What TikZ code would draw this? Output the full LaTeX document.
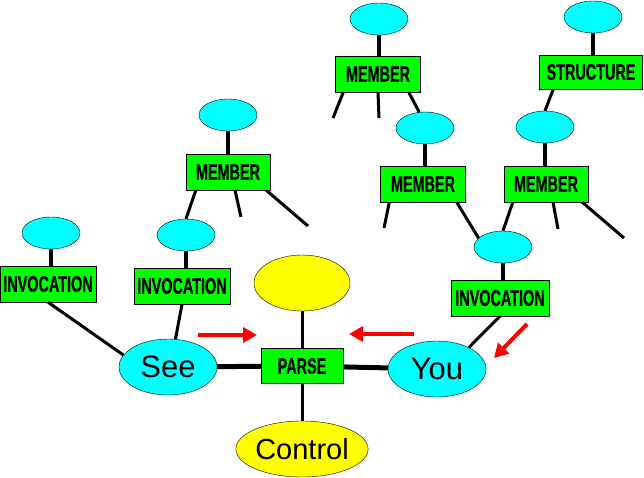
\documentclass[tikz,border=0pt]{standalone}
\usepackage{fontspec}
\setmainfont{Liberation Sans}
\newfontfamily\tagfont[FakeStretch=0.64, FakeBold=0.6]{Liberation Sans}
\usetikzlibrary{positioning,arrows.meta,shapes.geometric}
\definecolor{slotcyan}{RGB}{0,255,255}
\definecolor{rolegreen}{RGB}{0,255,0}
\definecolor{predyellow}{RGB}{255,255,0}
\definecolor{cuered}{RGB}{255,0,0}
\tikzset{
  slot/.style ={ellipse, draw=black, fill=slotcyan, minimum width=58pt, minimum height=32pt, inner sep=0pt},
  word/.style ={ellipse, draw=black, fill=slotcyan, minimum width=98pt, minimum height=56pt,
                inner sep=0pt, font=\fontsize{31}{31}\selectfont},
  pred/.style ={ellipse, draw=black, fill=predyellow, minimum width=96pt, minimum height=56pt,
                inner sep=0pt, font=\fontsize{29}{29}\selectfont},
  role/.style ={rectangle, draw=black, fill=rolegreen, minimum height=36pt, inner sep=0pt,
                font=\tagfont\bfseries\fontsize{22.5}{22.5}\selectfont},
  link/.style ={line width=3pt},
  stem/.style ={line width=4pt},
  bond/.style ={line width=5pt},
  cue/.style  ={-{Triangle[length=14pt,width=15pt]}, line width=4pt, draw=cuered},
}

\begin{document}
\begin{tikzpicture}[x=1pt, y=-1pt]
  \useasboundingbox (0,0) rectangle (644,477);
  % centre of the parse
  \node[role, minimum width=82pt, minimum height=35pt] (parse) at (302,366) {PARSE};
  \node[pred] (pq)   at (302,283) {};
  \node[pred] (ctrl) at (302,449) {Control};
  \node[word] (see)  at (168,367) {See};
  \node[word] (you)  at (437,369) {You};
  % role boxes
  \node[role, minimum width=96pt] (invL) at (48,284)  {INVOCATION};
  \node[role, minimum width=96pt] (invM) at (182,286) {INVOCATION};
  \node[role, minimum width=98pt] (invR) at (500,298) {INVOCATION};
  \node[role, minimum width=84pt] (memL) at (228,172) {MEMBER};
  \node[role, minimum width=85pt] (memT) at (378,74)  {MEMBER};
  \node[role, minimum width=85pt] (memB) at (423,184) {MEMBER};
  \node[role, minimum width=84pt] (memC) at (546,184) {MEMBER};
  \node[role, minimum width=103pt, minimum height=34pt] (strc) at (591,72) {STRUCTURE};
  % empty slots
  \node[slot] (s1) at (51,233)  {};
  \node[slot] (s2) at (186,235) {};
  \node[slot] (s3) at (228,115) {};
  \node[slot] (s4) at (379,19)  {};
  \node[slot] (s5) at (425,128) {};
  \node[slot] (s6) at (503,247) {};
  \node[slot] (s7) at (545,127) {};
  \node[slot] (s8) at (593,17)  {};
  % loose ends
  \coordinate (f1) at (241,217);
  \coordinate (f2) at (308,226);
  \coordinate (f3) at (333,118);
  \coordinate (f4) at (379,118);
  \coordinate (f5) at (384,228);
  \coordinate (f6) at (558,229);
  \coordinate (f7) at (624,238);

  \draw[bond] (see) -- (parse); \draw[bond] (parse) -- (you);
  \draw[link] (pq) -- (parse);  \draw[link] (parse) -- (ctrl);

  \foreach \s/\b in {s1/invL, s2/invM, s3/memL, s4/memT, s5/memB, s6/invR, s7/memC, s8/strc}
    \draw[stem] (\s.south) -- (\s.south |- \b.north);

  \draw[link] (invL.south) -- (see.165);
  \draw[link] (invM.south) -- (see.75);
  \draw[link] (invR.south) -- (you.34);
  \draw[link] ([xshift=10pt]memL.south west) -- (s2.north);
  \draw[link] ([xshift=7pt]memL.south) -- (f1);
  \draw[link] ([xshift=-4pt]memL.south east) -- (f2);
  \draw[link] ([xshift=8pt]memT.south west) -- (f3);
  \draw[link] (memT.south) -- (f4);
  \draw[link] ([xshift=-12pt]memT.south east) -- (s5.110);
  \draw[link] ([xshift=9pt]memB.south west) -- (f5);
  \draw[link] ([xshift=-9pt]memB.south east) -- (s6.160);
  \draw[link] ([xshift=9pt]memC.south west) -- (s6.north);
  \draw[link] ([xshift=7pt]memC.south) -- (f6);
  \draw[link] ([xshift=-6pt]memC.south east) -- (f7);
  \draw[link] ([xshift=14pt]strc.south west) -- (s7.north);

  % red cues
  \coordinate (a1) at (198,335); \coordinate (a2) at (257,335);
  \coordinate (a3) at (414,334); \coordinate (a4) at (349,334);
  \coordinate (a5) at (527,324); \coordinate (a6) at (494,358);
  \draw[cue] (a1) -- (a2);
  \draw[cue] (a3) -- (a4);
  \draw[cue] (a5) -- (a6);
\end{tikzpicture}
\end{document}
